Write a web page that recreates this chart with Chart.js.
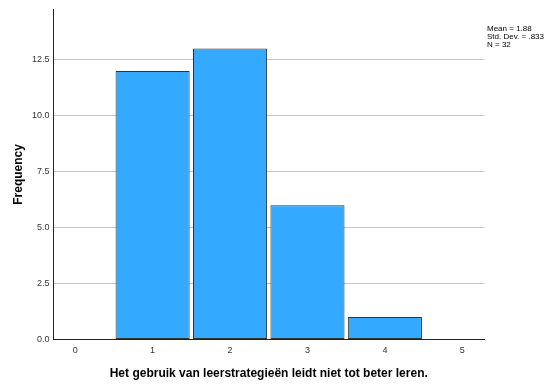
<!DOCTYPE html>
<html>
<head>
<meta charset="utf-8">
<script src="https://cdn.jsdelivr.net/npm/chart.js@4"></script>
<style>
  body { margin: 0; background: #fff; }
  #wrap { position: relative; width: 552px; height: 385px; }
  #stats { position: absolute; left: 487px; top: 25px; font: 8px "Liberation Sans", Arial, sans-serif; color: #000; line-height: 8px; }
</style>
</head>
<body>
<div id="wrap">
  <canvas id="histo" width="552" height="385"></canvas>
  <div id="stats">Mean = 1.88<br>Std. Dev. = .833<br>N = 32</div>
</div>
<script>
// Waarden uit het histogram
const bins = [1, 2, 3, 4];
const counts = [12, 13, 6, 1];
const xTicks = [0, 1, 2, 3, 4, 5];
const yTicks = [0, 2.5, 5, 7.5, 10, 12.5];

const fontFam = '"Liberation Sans", Arial, sans-serif';

const ctx = document.getElementById("histo");
new Chart(ctx, {
    type: 'bar',
    data: {
        datasets: [{
            data: bins.map((b, i) => ({ x: b, y: counts[i] })),
            backgroundColor: "rgb(51,170,255)",
            borderColor: "#333",
            borderWidth: 1,
            borderSkipped: false,
            barPercentage: 0.957,
            categoryPercentage: 1,
        }],
    },
    options: {
        responsive: false,
        devicePixelRatio: 1,
        animation: false,
        layout: { padding: { top: 9, right: 68, left: 0, bottom: 0 } },
        plugins: {
            legend: { display: false },
            tooltip: { enabled: false },
        },
        scales: {
            x: {
                type: 'linear',
                offset: false,
                min: -0.28,
                max: 5.28,
                afterBuildTicks: (scale) => { scale.ticks = xTicks.map((v) => ({ value: v })); },
                afterFit: (scale) => { scale.height = 45.5; },
                grid: { display: false, drawTicks: false },
                border: { color: "#222", width: 1 },
                ticks: { color: "#333", font: { family: fontFam, size: 9 }, padding: 6, callback: (v) => v },
                title: {
                    display: true,
                    text: "Het gebruik van leerstrategieën leidt niet tot beter leren.",
                    color: "#000",
                    font: { family: fontFam, size: 12, weight: 'bold' },
                    padding: { top: 8 },
                },
            },
            y: {
                min: 0,
                max: 14.75,
                afterBuildTicks: (scale) => { scale.ticks = yTicks.map((v) => ({ value: v })); },
                afterFit: (scale) => { scale.width = 53.5; },
                grid: { color: "#c4c4c4", drawTicks: false },
                border: { color: "#222", width: 1 },
                ticks: { color: "#333", font: { family: fontFam, size: 9 }, padding: 4, callback: (v) => v.toFixed(1) },
                title: {
                    display: true,
                    text: "Frequency",
                    color: "#000",
                    font: { family: fontFam, size: 12, weight: 'bold' },
                    padding: { top: 11, bottom: 0 },
                },
            },
        },
    },
});
</script>
</body>
</html>
